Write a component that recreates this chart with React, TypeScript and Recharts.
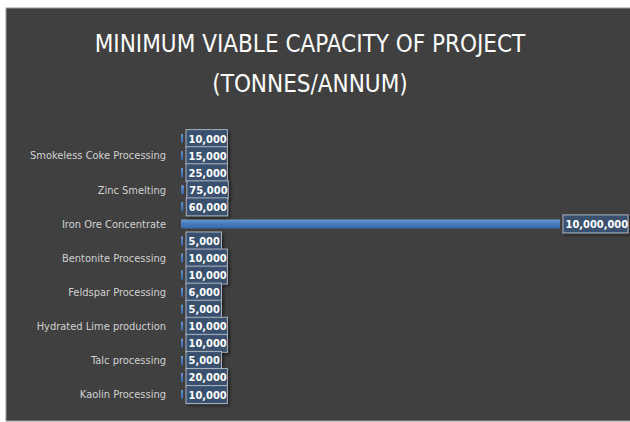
import React from 'react';
import { BarChart, Bar, XAxis, YAxis, LabelList } from 'recharts';

// display order, top to bottom; only every other category is labelled in the original
const categories = [
  '', 'Smokeless Coke Processing', '', 'Zinc Smelting', '', 'Iron Ore Concentrate',
  '', 'Bentonite Processing', '', 'Feldspar Processing', '', 'Hydrated Lime production',
  '', 'Talc processing', '', 'Kaolin Processing',
];
const capacity = [
  10000, 15000, 25000, 75000, 60000, 10000000,
  5000, 10000, 10000, 6000, 5000, 10000,
  10000, 5000, 20000, 10000,
];
const titleLines = ['MINIMUM VIABLE CAPACITY OF PROJECT', '(TONNES/ANNUM)'];

const FONT = "'DejaVu Sans Condensed', 'Liberation Sans Narrow', sans-serif";

const data = capacity.map((v, i) => ({ id: i, value: v }));

const fmt = (v: number) => v.toLocaleString('en-US');

const BoxLabel = (props: any) => {
  const { x, y, width, height, value } = props;
  const txt = fmt(Number(value));
  const bw = txt.length * 5.9 + 6;
  const bx = x + width + 3;
  const cy = y + height / 2;
  return (
    <g>
      <rect x={bx} y={cy - 9} width={bw} height={18} fill="#3a5273" fillOpacity={0.92}
        stroke="#a9b1bb" strokeWidth={1} filter="url(#lblShadow)" />
      <text x={bx + 2.5} y={cy + 4} fill="#ffffff" fontSize={11} fontWeight="bold" fontFamily={FONT}>
        {txt}
      </text>
    </g>
  );
};

export default function App() {
  return (
    <div style={{ position: 'absolute', left: 0, top: 0, width: 630, height: 422, background: '#ffffff' }}>
      <svg width={630} height={422} style={{ position: 'absolute', left: 0, top: 0 }}>
        <defs>
          <filter id="lblShadow" x="-30%" y="-30%" width="160%" height="180%">
            <feDropShadow dx="2" dy="2" stdDeviation="1.5" floodColor="#000000" floodOpacity="0.45" />
          </filter>
        </defs>
        <rect x={6} y={8} width={630} height={413} fill="#404040" stroke="#9a9a9a" strokeWidth={1} />
        {titleLines.map((t, i) => (
          <text key={i} x={310} y={52 + i * 40} textAnchor="middle" fill="#ffffff" fontSize={24} fontFamily={FONT}>
            {t}
          </text>
        ))}
      </svg>
      <div style={{ position: 'absolute', left: 0, top: 0 }}>
        <BarChart width={630} height={422} data={data} layout="vertical"
          margin={{ top: 130, right: 70, bottom: 19, left: 0 }} barCategoryGap="24%">
          <defs>
            <linearGradient id="barFill" x1="0" y1="0" x2="0" y2="1">
              <stop offset="0%" stopColor="#6d9ad2" />
              <stop offset="45%" stopColor="#4a7cc0" />
              <stop offset="100%" stopColor="#3a68a6" />
            </linearGradient>
          </defs>
          <XAxis type="number" hide domain={[0, 10000000]} />
          <YAxis type="category" dataKey="id" width={181} interval={0}
            tickFormatter={(i: number) => categories[i]} axisLine={false} tickLine={false}
            tickSize={0} tickMargin={15}
            tick={{ fill: '#d0d0d0', fontSize: 11, fontFamily: FONT }} />
          <Bar dataKey="value" fill="url(#barFill)" minPointSize={2} isAnimationActive={false}>
            <LabelList dataKey="value" content={<BoxLabel />} />
          </Bar>
        </BarChart>
      </div>
    </div>
  );
}
